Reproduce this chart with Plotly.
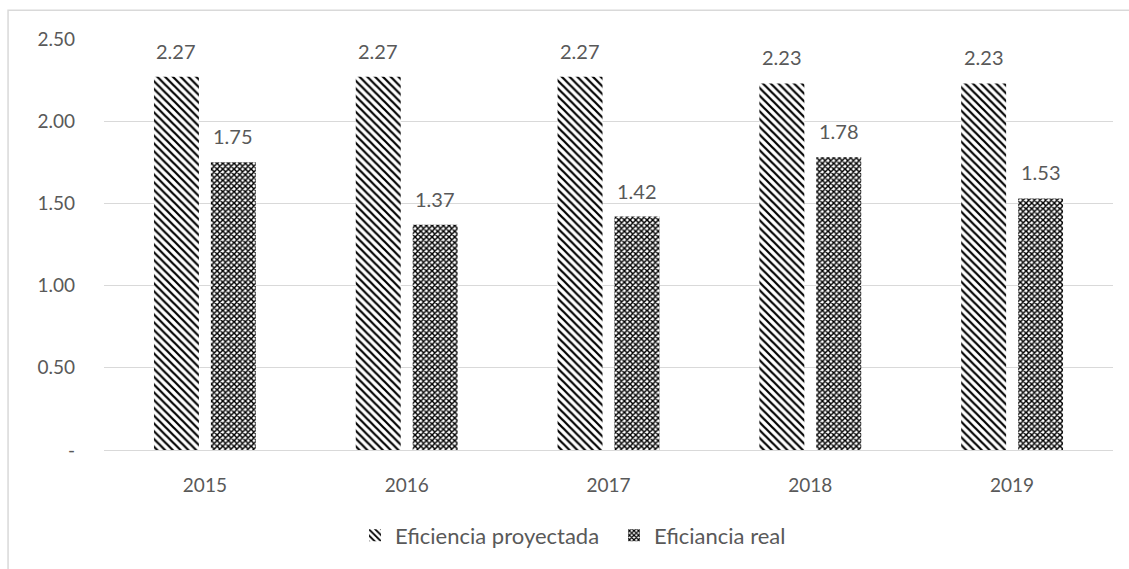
import plotly.graph_objects as go

years = ["2015", "2016", "2017", "2018", "2019"]
proyectada = [2.27, 2.27, 2.27, 2.23, 2.23]
real = [1.75, 1.37, 1.42, 1.78, 1.53]
ytick_vals = [0, 0.5, 1.0, 1.5, 2.0, 2.5]
ytick_text = ["-", "0.50", "1.00", "1.50", "2.00", "2.50"]

FONT = "Lato"
GRAY = "#595959"
SIZE = 19
BAR_OFFSET_PX = 28.5  # half the width of one bar slot within a group

fig = go.Figure()
fig.add_trace(go.Bar(
    name="Eficiencia proyectada", x=years, y=proyectada,
    marker=dict(color="white", line=dict(width=0),
                pattern=dict(shape="\\", size=5.5, solidity=0.4,
                             fgcolor="black", bgcolor="white", fgopacity=1)),
))
fig.add_trace(go.Bar(
    name="Eficiancia real", x=years, y=real,
    marker=dict(color="white", line=dict(width=0),
                pattern=dict(shape="x", size=4, solidity=0.6,
                             fgcolor="black", bgcolor="white", fgopacity=1)),
))

# value labels floating above each bar (x given as the category index)
for series, shift in ((proyectada, -BAR_OFFSET_PX), (real, BAR_OFFSET_PX)):
    for idx, v in enumerate(series):
        fig.add_annotation(x=idx, y=v, xref="x", yref="y", text=f"{v:.2f}",
                           showarrow=False, xshift=shift, yshift=12,
                           yanchor="bottom",
                           font=dict(family=FONT, size=20, color=GRAY))

fig.update_layout(
    width=1129, height=569,
    margin=dict(l=104, r=16, t=39, b=116),
    paper_bgcolor="white", plot_bgcolor="white",
    barmode="group", bargap=0.436, bargroupgap=0.21,
    font=dict(family=FONT, size=SIZE, color=GRAY),
    legend=dict(orientation="h", x=(355 - 104) / 1009, xanchor="left",
                y=-0.208, yanchor="middle",
                font=dict(family=FONT, size=22, color=GRAY),
                itemwidth=30, entrywidth=214),
    yaxis=dict(range=[0, 2.5], tickvals=ytick_vals, ticktext=ytick_text,
               showgrid=True, gridcolor="#d9d9d9", gridwidth=1,
               zeroline=False, showline=False, ticks="", ticklabelstandoff=28),
    xaxis=dict(type="category", range=[-0.5, len(years) - 0.5],
               showline=True, linecolor="#d9d9d9",
               linewidth=1, ticks="", ticklabelstandoff=18),
    shapes=[dict(type="rect", xref="paper", yref="paper",
                 x0=-0.0951, x1=1.05, y0=-0.5, y1=1.070,
                 line=dict(color="#d9d9d9", width=1.5), layer="below")],
)

fig.write_html("out.html")
